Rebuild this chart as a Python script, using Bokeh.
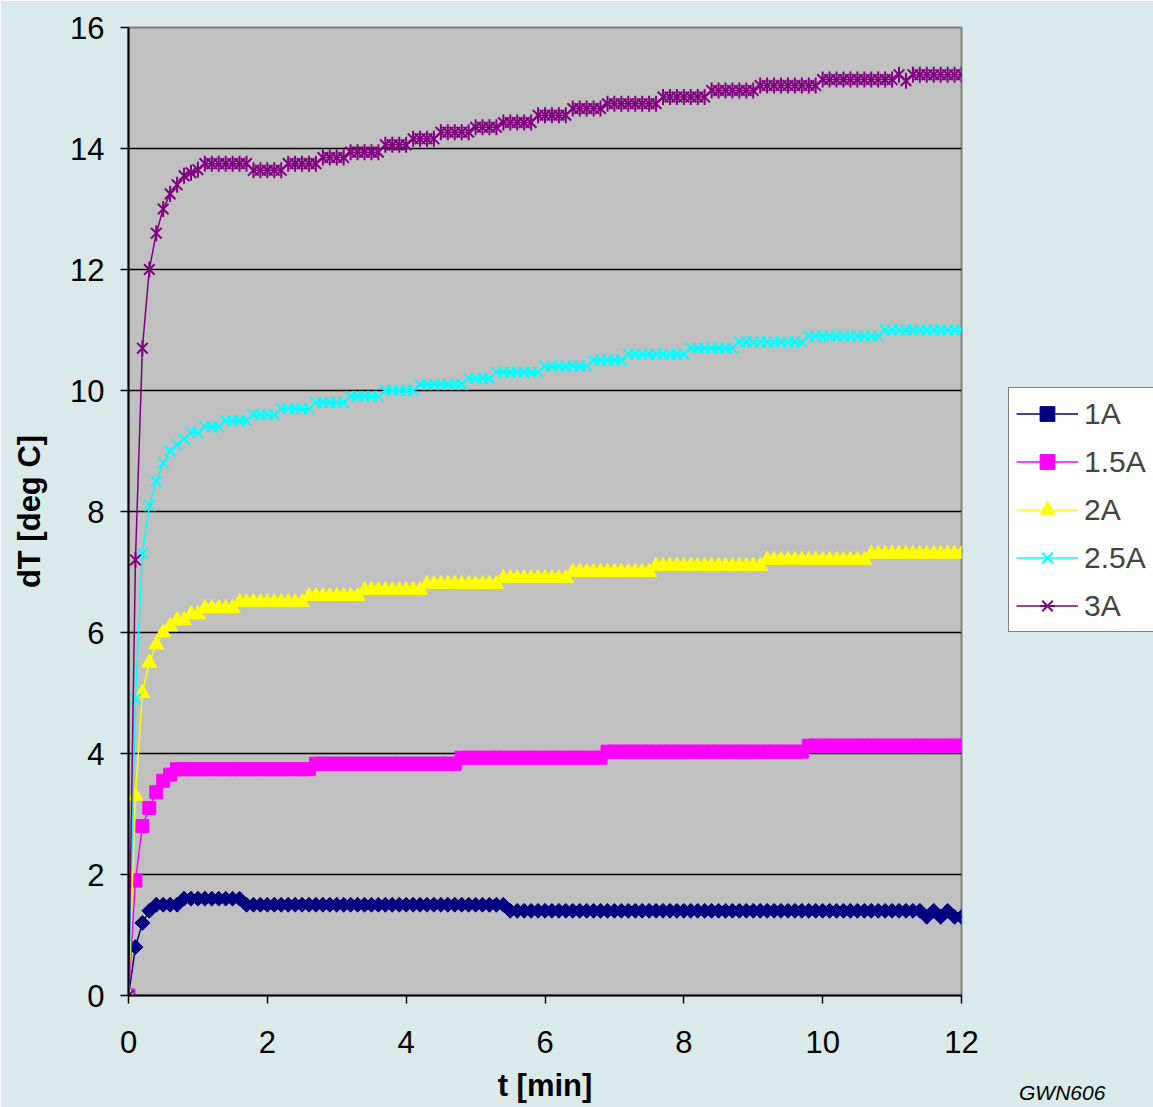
import math
import numpy as np
from bokeh.plotting import figure
from bokeh.models import (Range1d, FixedTicker, Legend, LegendItem, Label,
                          ColumnDataSource)
from bokeh.embed import file_html
from bokeh.resources import INLINE

# ---------------- data ----------------
SAMPLE_INTERVAL_MIN = 0.1          # one reading every 6 s
N_SAMPLES = 121
t_min = np.round(np.arange(N_SAMPLES) * SAMPLE_INTERVAL_MIN, 1)

series_names = ["1A", "1.5A", "2A", "2.5A", "3A"]

dT_1A = [
    0, 0.8, 1.2, 1.4, 1.5, 1.5, 1.5, 1.5, 1.6, 1.6,
    1.6, 1.6, 1.6, 1.6, 1.6, 1.6, 1.6, 1.5, 1.5, 1.5,
    1.5, 1.5, 1.5, 1.5, 1.5, 1.5, 1.5, 1.5, 1.5, 1.5,
    1.5, 1.5, 1.5, 1.5, 1.5, 1.5, 1.5, 1.5, 1.5, 1.5,
    1.5, 1.5, 1.5, 1.5, 1.5, 1.5, 1.5, 1.5, 1.5, 1.5,
    1.5, 1.5, 1.5, 1.5, 1.5, 1.4, 1.4, 1.4, 1.4, 1.4,
    1.4, 1.4, 1.4, 1.4, 1.4, 1.4, 1.4, 1.4, 1.4, 1.4,
    1.4, 1.4, 1.4, 1.4, 1.4, 1.4, 1.4, 1.4, 1.4, 1.4,
    1.4, 1.4, 1.4, 1.4, 1.4, 1.4, 1.4, 1.4, 1.4, 1.4,
    1.4, 1.4, 1.4, 1.4, 1.4, 1.4, 1.4, 1.4, 1.4, 1.4,
    1.4, 1.4, 1.4, 1.4, 1.4, 1.4, 1.4, 1.4, 1.4, 1.4,
    1.4, 1.4, 1.4, 1.4, 1.4, 1.3, 1.4, 1.3, 1.4, 1.3,
    1.3,
]

dT_1_5A = [
    0, 1.9, 2.8, 3.1, 3.36, 3.55, 3.65, 3.74, 3.74, 3.74,
    3.74, 3.74, 3.74, 3.74, 3.74, 3.74, 3.74, 3.74, 3.74, 3.74,
    3.74, 3.74, 3.74, 3.74, 3.74, 3.74, 3.74, 3.83, 3.83, 3.83,
    3.83, 3.83, 3.83, 3.83, 3.83, 3.83, 3.83, 3.83, 3.83, 3.83,
    3.83, 3.83, 3.83, 3.83, 3.83, 3.83, 3.83, 3.83, 3.93, 3.93,
    3.93, 3.93, 3.93, 3.93, 3.93, 3.93, 3.93, 3.93, 3.93, 3.93,
    3.93, 3.93, 3.93, 3.93, 3.93, 3.93, 3.93, 3.93, 3.93, 4.03,
    4.03, 4.03, 4.03, 4.03, 4.03, 4.03, 4.03, 4.03, 4.03, 4.03,
    4.03, 4.03, 4.03, 4.03, 4.03, 4.03, 4.03, 4.03, 4.03, 4.03,
    4.03, 4.03, 4.03, 4.03, 4.03, 4.03, 4.03, 4.03, 4.13, 4.13,
    4.13, 4.13, 4.13, 4.13, 4.13, 4.13, 4.13, 4.13, 4.13, 4.13,
    4.13, 4.13, 4.13, 4.13, 4.13, 4.13, 4.13, 4.13, 4.13, 4.13,
    4.13,
]

dT_2A = [
    0, 3.3, 5.0, 5.5, 5.8, 6.0, 6.1, 6.2, 6.2, 6.3,
    6.3, 6.4, 6.4, 6.4, 6.4, 6.4, 6.5, 6.5, 6.5, 6.5,
    6.5, 6.5, 6.5, 6.5, 6.5, 6.5, 6.6, 6.6, 6.6, 6.6,
    6.6, 6.6, 6.6, 6.6, 6.7, 6.7, 6.7, 6.7, 6.7, 6.7,
    6.7, 6.7, 6.7, 6.8, 6.8, 6.8, 6.8, 6.8, 6.8, 6.8,
    6.8, 6.8, 6.8, 6.8, 6.9, 6.9, 6.9, 6.9, 6.9, 6.9,
    6.9, 6.9, 6.9, 6.9, 7.0, 7.0, 7.0, 7.0, 7.0, 7.0,
    7.0, 7.0, 7.0, 7.0, 7.0, 7.0, 7.1, 7.1, 7.1, 7.1,
    7.1, 7.1, 7.1, 7.1, 7.1, 7.1, 7.1, 7.1, 7.1, 7.1,
    7.1, 7.1, 7.2, 7.2, 7.2, 7.2, 7.2, 7.2, 7.2, 7.2,
    7.2, 7.2, 7.2, 7.2, 7.2, 7.2, 7.2, 7.3, 7.3, 7.3,
    7.3, 7.3, 7.3, 7.3, 7.3, 7.3, 7.3, 7.3, 7.3, 7.3,
    7.3,
]

dT_2_5A = [
    0, 4.9, 7.3, 8.1, 8.5, 8.8, 9.0, 9.1, 9.2, 9.3,
    9.3, 9.4, 9.4, 9.4, 9.5, 9.5, 9.5, 9.5, 9.6, 9.6,
    9.6, 9.6, 9.7, 9.7, 9.7, 9.7, 9.7, 9.8, 9.8, 9.8,
    9.8, 9.8, 9.9, 9.9, 9.9, 9.9, 9.9, 10.0, 10.0, 10.0,
    10.0, 10.0, 10.1, 10.1, 10.1, 10.1, 10.1, 10.1, 10.1, 10.2,
    10.2, 10.2, 10.2, 10.3, 10.3, 10.3, 10.3, 10.3, 10.3, 10.3,
    10.4, 10.4, 10.4, 10.4, 10.4, 10.4, 10.4, 10.5, 10.5, 10.5,
    10.5, 10.5, 10.6, 10.6, 10.6, 10.6, 10.6, 10.6, 10.6, 10.6,
    10.6, 10.7, 10.7, 10.7, 10.7, 10.7, 10.7, 10.7, 10.8, 10.8,
    10.8, 10.8, 10.8, 10.8, 10.8, 10.8, 10.8, 10.8, 10.9, 10.9,
    10.9, 10.9, 10.9, 10.9, 10.9, 10.9, 10.9, 10.9, 10.9, 11.0,
    11.0, 11.0, 11.0, 11.0, 11.0, 11.0, 11.0, 11.0, 11.0, 11.0,
    11.0,
]

dT_3A = [
    0, 7.2, 10.7, 12.0, 12.6, 13.0, 13.25, 13.4, 13.55, 13.6,
    13.65, 13.75, 13.75, 13.75, 13.75, 13.75, 13.75, 13.75, 13.64, 13.64,
    13.64, 13.64, 13.64, 13.75, 13.75, 13.75, 13.75, 13.75, 13.85, 13.85,
    13.85, 13.85, 13.94, 13.94, 13.94, 13.94, 13.94, 14.06, 14.06, 14.06,
    14.06, 14.16, 14.16, 14.16, 14.16, 14.27, 14.27, 14.27, 14.27, 14.27,
    14.35, 14.35, 14.35, 14.35, 14.43, 14.43, 14.43, 14.43, 14.43, 14.55,
    14.55, 14.55, 14.55, 14.55, 14.66, 14.66, 14.66, 14.66, 14.66, 14.74,
    14.74, 14.74, 14.74, 14.74, 14.74, 14.74, 14.74, 14.85, 14.85, 14.85,
    14.85, 14.85, 14.85, 14.85, 14.96, 14.96, 14.96, 14.96, 14.96, 14.96,
    14.96, 15.04, 15.04, 15.04, 15.04, 15.04, 15.04, 15.04, 15.04, 15.04,
    15.14, 15.14, 15.14, 15.14, 15.14, 15.14, 15.14, 15.14, 15.14, 15.14,
    15.14, 15.22, 15.12, 15.22, 15.22, 15.22, 15.22, 15.22, 15.22, 15.22,
    15.22,
]

x_ticks = [0, 2, 4, 6, 8, 10, 12]
y_ticks = [0, 2, 4, 6, 8, 10, 12, 14, 16]

# chart note in the bottom-right corner, anchored in data coordinates
note_text = "GWN606"
note_t = 13.45
note_dT = -1.60

# ---------------- figure ----------------
FONT = "Liberation Sans"
BG = "#dae9e9"

p = figure(frame_width=833, frame_height=968,
           min_border_left=128, min_border_right=192,
           min_border_top=27, min_border_bottom=112,
           x_range=Range1d(0, 12), y_range=Range1d(0, 16),
           output_backend="svg", toolbar_location=None)

p.background_fill_color = "#c0c0c0"
p.border_fill_color = BG
p.outline_line_color = "#808080"
p.outline_line_width = 2

p.xgrid.grid_line_color = None
p.ygrid.grid_line_color = "black"
p.ygrid.grid_line_width = 1.6
p.ygrid.ticker = FixedTicker(ticks=y_ticks)

for ax, ticks in ((p.xaxis, x_ticks), (p.yaxis, y_ticks)):
    ax.ticker = FixedTicker(ticks=ticks)
    ax.axis_line_color = "black"
    ax.axis_line_width = 2
    ax.major_tick_line_color = "black"
    ax.major_tick_line_width = 1.5
    ax.major_tick_out = 8
    ax.major_tick_in = 0
    ax.minor_tick_line_color = None
    ax.major_label_text_font = FONT
    ax.major_label_text_font_size = "31px"
    ax.major_label_text_color = "black"
    ax.axis_label_text_font = FONT
    ax.axis_label_text_font_size = "31px"
    ax.axis_label_text_font_style = "bold"
    ax.axis_label_text_color = "black"

p.xaxis.axis_label = "t [min]"
p.yaxis.axis_label = "dT [deg C]"
p.xaxis.major_label_standoff = 27
p.yaxis.major_label_standoff = 16
p.xaxis.axis_label_standoff = 12
p.yaxis.axis_label_standoff = 20

src = ColumnDataSource(dict(t=t_min, s1=dT_1A, s2=dT_1_5A, s3=dT_2A,
                            s4=dT_2_5A, s5=dT_3A))

items = []

# 1A - navy diamonds
l1 = p.line("t", "s1", source=src, line_color="#000080", line_width=1.5)
m1 = p.scatter("t", "s1", source=src, marker="square", angle=math.pi / 4,
               size=10.5, fill_color="#000080", line_color="#000080")
items.append(LegendItem(label=series_names[0], renderers=[l1, m1]))

# 1.5A - magenta squares
l2 = p.line("t", "s2", source=src, line_color="#ff00ff", line_width=1.5)
m2 = p.scatter("t", "s2", source=src, marker="square", size=13,
               fill_color="#ff00ff", line_color="#ff00ff")
items.append(LegendItem(label=series_names[1], renderers=[l2, m2]))

# 2A - yellow triangles
l3 = p.line("t", "s3", source=src, line_color="#ffff00", line_width=1.5)
m3 = p.scatter("t", "s3", source=src, marker="triangle", size=15,
               fill_color="#ffff00", line_color="#ffff00")
items.append(LegendItem(label=series_names[2], renderers=[l3, m3]))

# 2.5A - cyan crosses
l4 = p.line("t", "s4", source=src, line_color="#00ffff", line_width=1.5)
m4 = p.scatter("t", "s4", source=src, marker="x", size=15,
               line_color="#00ffff", line_width=2)
items.append(LegendItem(label=series_names[3], renderers=[l4, m4]))

# 3A - purple stars
l5 = p.line("t", "s5", source=src, line_color="#800080", line_width=1.5)
m5a = p.scatter("t", "s5", source=src, marker="x", size=15,
                line_color="#800080", line_width=2)
m5b = p.scatter("t", "s5", source=src, marker="dash", angle=math.pi / 2,
                size=16, line_color="#800080", line_width=2)
items.append(LegendItem(label=series_names[4], renderers=[l5, m5a, m5b]))

legend = Legend(items=items, location=(47, 363),
                orientation="vertical",
                glyph_width=62, glyph_height=37, label_height=18,
                label_width=72,
                label_standoff=6, spacing=11, padding=7, margin=-30,
                label_text_font=FONT, label_text_font_size="30px",
                label_text_baseline="middle",
                border_line_color="black", border_line_width=1.5,
                background_fill_color="white", background_fill_alpha=1.0)
p.add_layout(legend, "right")

p.add_layout(Label(x=note_t, y=note_dT, x_units="data", y_units="data",
                   text=note_text, text_font=FONT, text_font_size="21px",
                   text_font_style="italic", text_align="center",
                   text_baseline="middle", text_color="black"), "right")

open("out.html", "w").write(file_html(p, INLINE))
